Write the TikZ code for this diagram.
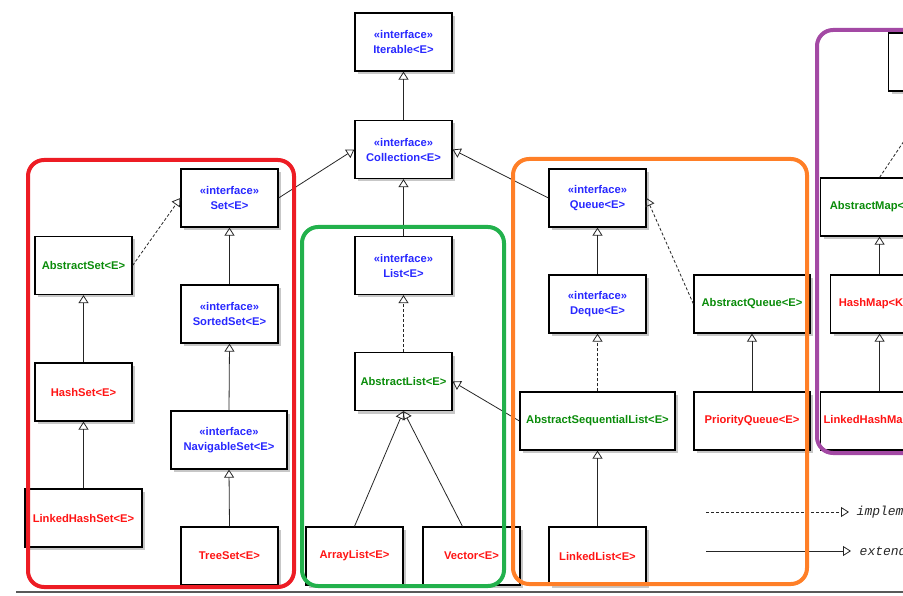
\documentclass[tikz,border=0pt]{standalone}
\usepackage{fontspec}
\setsansfont{Liberation Sans}
\setmonofont{Liberation Mono}
\usepackage{tikz}
\usetikzlibrary{arrows.meta, shadows}

\definecolor{ifaceBlue}{RGB}{40,40,255}
\definecolor{absGreen}{RGB}{10,140,10}
\definecolor{classRed}{RGB}{255,20,20}
\definecolor{setRed}{RGB}{237,28,36}
\definecolor{listGreen}{RGB}{34,177,76}
\definecolor{queueOrange}{RGB}{255,127,39}
\definecolor{mapPurple}{RGB}{163,73,164}

\begin{document}
\begin{tikzpicture}[x=1pt, y=-1pt]
            \pgfmathsetmacro{\w}{97}
            \pgfmathsetmacro{\h}{58}
            \tikzstyle{box}=[draw, line width=1.2pt, fill=white, minimum width=\w pt, minimum height=\h pt, inner sep=3pt, align=center,
                font=\sffamily\bfseries\fontsize{11.2}{15}\selectfont,
                drop shadow={shadow xshift=3pt, shadow yshift=-3pt, fill=black!22, opacity=1}]
            \tikzstyle{iface}=[box, text=ifaceBlue]
            \tikzstyle{absCls}=[box, text=absGreen]
            \tikzstyle{cls}=[box, text=classRed]
            \tikzstyle{ext}=[line width=0.8pt, black!85, -{Triangle[open, length=8pt, width=10pt]}]
            \tikzstyle{impl}=[ext, dash pattern=on 3pt off 2pt]
            \tikzstyle{region}=[line width=4pt, rounded corners=16pt]
            \tikzstyle{legend}=[anchor=west, font=\ttfamily\itshape\fontsize{13}{15}\selectfont]

            \useasboundingbox (0,0) rectangle (903,596);
            \clip (0,0) rectangle (903,596);

            %%%%%%%%%%%%%%%%%%%%%%%%%%%%%%%%%%%%%%%%
            % top
            \node at (403.5, 42) (iterable) [iface] {«interface»\\Iterable<E>};
            \node at (403.5, 149.5) (collection) [iface] {«interface»\\Collection<E>};

            % set
            \node at (229.5, 198) (set) [iface] {«interface»\\Set<E>};
            \node at (83.5, 265.5) (abstractSet) [absCls] {AbstractSet<E>};
            \node at (229.5, 314) (sortedSet) [iface] {«interface»\\SortedSet<E>};
            \node at (83.5, 392) (hashSet) [cls] {HashSet<E>};
            \node at (229, 440) (navigableSet) [iface, minimum width=116pt] {«interface»\\NavigableSet<E>};
            \node at (83.5, 518) (linkedHashSet) [cls, minimum width=117pt] {LinkedHashSet<E>};
            \node at (229.5, 556) (treeSet) [cls] {TreeSet<E>};

            % list
            \node at (403.5, 265.5) (list) [iface] {«interface»\\List<E>};
            \node at (403.5, 381.5) (abstractList) [absCls] {AbstractList<E>};
            \node at (354.5, 556) (arrayList) [cls] {ArrayList<E>};
            \node at (471.5, 556) (vector) [cls] {Vector<E>};

            % queue
            \node at (597.5, 198) (queue) [iface] {«interface»\\Queue<E>};
            \node at (597.5, 304) (deque) [iface] {«interface»\\Deque<E>};
            \node at (752, 304) (abstractQueue) [absCls, minimum width=116pt] {AbstractQueue<E>};
            \node at (597.5, 421) (abstractSeqList) [absCls, minimum width=155pt] {AbstractSequentialList<E>};
            \node at (752, 421) (priorityQueue) [cls, minimum width=116pt] {PriorityQueue<E>};
            \node at (597.5, 556) (linkedList) [cls] {LinkedList<E>};

            % map
            \node at (888, 62) (map) [iface, anchor=west] {«interface»\\Map<K,V>};
            \node at (820, 207) (abstractMap) [absCls, anchor=west, minimum width=118pt] {AbstractMap<K,V>};
            \node at (830, 304) (hashMap) [cls, anchor=west, minimum width=98pt] {HashMap<K,V>};
            \node at (820, 421) (linkedHashMap) [cls, anchor=west] {LinkedHashMap<K,V>};

            %%%%%%%%%%%%%%%%%%%%%%%%%%%%%%%%%%%%%%%%
            \draw[ext] (collection.north) -- (iterable.south);
            \draw[ext] (set.east) -- (collection.west);
            \draw[ext] (list.north) -- (collection.south);
            \draw[ext] (queue.west) -- (collection.east);

            \draw[impl] (abstractSet.east) -- (set.west);
            \draw[ext] (sortedSet.north) -- (set.south);
            \draw[ext] (navigableSet.north) -- (sortedSet.south);
            \draw[ext] (hashSet.north) -- (abstractSet.south);
            \draw[ext] (linkedHashSet.north) -- (hashSet.south);
            \draw[ext] (treeSet.north) -- (navigableSet.south);

            \draw[impl] (abstractList.north) -- (list.south);
            \draw[ext] (arrayList.north) -- (abstractList.south);
            \draw[ext] ([xshift=-9pt]vector.north) -- (abstractList.south);
            \draw[ext] (abstractSeqList.west) -- (abstractList.east);

            \draw[ext] (deque.north) -- (queue.south);
            \draw[impl] (abstractQueue.west) -- (queue.east);
            \draw[impl] (abstractSeqList.north) -- (deque.south);
            \draw[ext] (priorityQueue.north) -- (abstractQueue.south);
            \draw[ext] (linkedList.north) -- (abstractSeqList.south);

            \draw[impl] (abstractMap.north) -- (map.south);
            \draw[ext] (hashMap.north) -- (abstractMap.south);
            \draw[ext] (linkedHashMap.north -| hashMap.south) -- (hashMap.south);

            % legend
            \coordinate (implFrom) at (706, 512);
            \coordinate (implTo) at (849, 512);
            \coordinate (extFrom) at (706, 551);
            \coordinate (extTo) at (851, 551);
            \draw[impl] (implFrom) -- (implTo) node (implText) [legend, right=4pt] {implements};
            \draw[ext] (extFrom) -- (extTo) node (extText) [legend, right=5pt] {extends};

            %%%%%%%%%%%%%%%%%%%%%%%%%%%%%%%%%%%%%%%%
            \draw[region, setRed] (28, 160) rectangle (294, 587);
            \draw[region, listGreen] (302, 227) rectangle (504, 586);
            \draw[region, queueOrange] (513, 159) rectangle (807, 584);
            \draw[region, mapPurple] (817, 30) rectangle (960, 453);

            \draw[line width=2.5pt, black!65] (16, 592) -- (903, 592);
\end{tikzpicture}
\end{document}
